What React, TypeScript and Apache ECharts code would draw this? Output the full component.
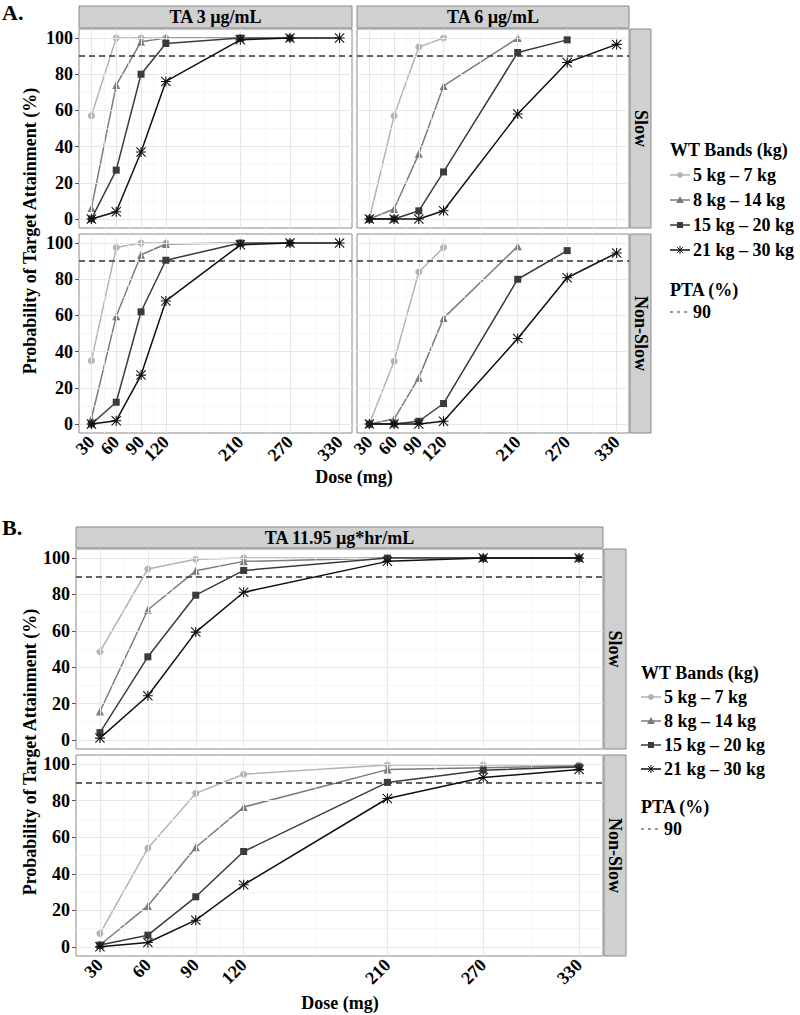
import React, { useEffect, useRef } from "react";
import * as echarts from "echarts";

// ---- data ----
const DOSES = [30, 60, 90, 120, 210, 270, 330];
const Y_TICKS = [0, 20, 40, 60, 80, 100];
const Y_MINOR = [10, 30, 50, 70, 90];
const X_MINOR = [45, 75, 105, 165, 240, 300];
const PTA = 90;
const BANDS = ["5 kg \u2013 7 kg", "8 kg \u2013 14 kg", "15 kg \u2013 20 kg", "21 kg \u2013 30 kg"];

// doses per band in panel A
const A_DOSES_5_7 = [30, 60, 90, 120];
const A_DOSES_8_14 = [30, 60, 90, 120, 210];
const A_DOSES_15_20 = [30, 60, 90, 120, 210, 270];
const A_DOSES_21_30 = [30, 60, 90, 120, 210, 270, 330];

// A: TA 3 ug/mL, Slow
const A3_SLOW_5_7 = [57, 100, 100, 100];
const A3_SLOW_8_14 = [6, 74, 98, 100, 100];
const A3_SLOW_15_20 = [0, 27, 80, 97, 100, 100];
const A3_SLOW_21_30 = [0, 4, 37, 76, 99, 100, 100];
// A: TA 6 ug/mL, Slow
const A6_SLOW_5_7 = [0, 57, 95, 100];
const A6_SLOW_8_14 = [0, 5.5, 36, 73.5, 100];
const A6_SLOW_15_20 = [0, 0, 4.5, 26, 92, 99];
const A6_SLOW_21_30 = [0, 0, 0, 4.5, 58, 86.5, 96.5];
// A: TA 3 ug/mL, Non-Slow
const A3_NON_5_7 = [35, 97.5, 100, 100];
const A3_NON_8_14 = [3, 59.5, 93.5, 99.5, 100];
const A3_NON_15_20 = [0, 12, 62, 90.5, 100, 100];
const A3_NON_21_30 = [0, 1.8, 27, 68, 99, 100, 100];
// A: TA 6 ug/mL, Non-Slow
const A6_NON_5_7 = [0, 34.7, 84, 97.5];
const A6_NON_8_14 = [0, 2.7, 25.6, 58.5, 98.2];
const A6_NON_15_20 = [0, 0, 1.5, 11.3, 80, 95.8];
const A6_NON_21_30 = [0, 0, 0, 1.5, 47.2, 80.8, 94.5];
// B: TA 11.95 ug*hr/mL, Slow
const B_SLOW_5_7 = [48.5, 94, 99.4, 100, 100, 100, 100];
const B_SLOW_8_14 = [15.6, 71.6, 93, 98.2, 100, 100, 100];
const B_SLOW_15_20 = [4, 45.7, 79.6, 93.2, 100, 100, 100];
const B_SLOW_21_30 = [1, 24.3, 59.3, 81.2, 98.2, 100, 100];
// B: Non-Slow
const B_NON_5_7 = [7.3, 54, 84, 94.5, 99.5, 99.5, 99.5];
const B_NON_8_14 = [1, 22.4, 54.5, 76.5, 97, 98, 99];
const B_NON_15_20 = [1, 6.4, 27.4, 52.2, 90, 96.7, 98.5];
const B_NON_21_30 = [0, 2.4, 14.6, 34, 81.2, 92.7, 97];

// ---- styling ----
const FONT = "'Liberation Serif', 'Times New Roman', serif";
const COLORS = ["#b3b3b3", "#7b7b7b", "#3b3b3b", "#101010"];
const STAR =
  "path://M4.45,0 L5.55,0 L5.55,10 L4.45,10 Z M0,4.45 L10,4.45 L10,5.55 L0,5.55 Z M0.75,0 L10,9.25 L9.25,10 L0,0.75 Z M9.25,0 L10,0.75 L0.75,10 L0,9.25 Z";
const SYMBOLS = ["circle", "triangle", "rect", STAR];
const SIZES = [7, 8, 7, 10];
const X_MIN = 15;
const X_MAX = 345;

const A_DOSE_SETS = [A_DOSES_5_7, A_DOSES_8_14, A_DOSES_15_20, A_DOSES_21_30];

const PANELS = [
  { left: 79, top: 29, width: 273, height: 199, xl: false, yl: true, doses: A_DOSE_SETS, vals: [A3_SLOW_5_7, A3_SLOW_8_14, A3_SLOW_15_20, A3_SLOW_21_30] },
  { left: 357, top: 29, width: 272, height: 199, xl: false, yl: false, doses: A_DOSE_SETS, vals: [A6_SLOW_5_7, A6_SLOW_8_14, A6_SLOW_15_20, A6_SLOW_21_30] },
  { left: 79, top: 234, width: 273, height: 199, xl: true, yl: true, doses: A_DOSE_SETS, vals: [A3_NON_5_7, A3_NON_8_14, A3_NON_15_20, A3_NON_21_30] },
  { left: 357, top: 234, width: 272, height: 199, xl: true, yl: false, doses: A_DOSE_SETS, vals: [A6_NON_5_7, A6_NON_8_14, A6_NON_15_20, A6_NON_21_30] },
  { left: 76, top: 549, width: 527, height: 200, xl: false, yl: true, doses: [DOSES, DOSES, DOSES, DOSES], vals: [B_SLOW_5_7, B_SLOW_8_14, B_SLOW_15_20, B_SLOW_21_30] },
  { left: 76, top: 755, width: 527, height: 201, xl: true, yl: true, doses: [DOSES, DOSES, DOSES, DOSES], vals: [B_NON_5_7, B_NON_8_14, B_NON_15_20, B_NON_21_30] },
];

function txt(text: string, x: number, y: number, size: number, align = "left", rotation = 0) {
  return {
    type: "text",
    x,
    y,
    rotation,
    style: {
      text,
      fill: "#000",
      fontSize: size,
      fontWeight: "bold",
      fontFamily: FONT,
      textAlign: align,
      textVerticalAlign: "middle",
    },
  };
}

function strip(x: number, y: number, w: number, h: number) {
  return {
    type: "rect",
    shape: { x, y, width: w, height: h },
    style: { fill: "#d0d0d0", stroke: "#8a8a8a", lineWidth: 1 },
  };
}

function legendKey(i: number, x: number, y: number) {
  const c = COLORS[i];
  const cx = x + 10;
  const els: any[] = [
    { type: "line", shape: { x1: x, y1: y, x2: x + 20, y2: y }, style: { stroke: c, lineWidth: 1.5 } },
  ];
  if (i === 0) els.push({ type: "circle", shape: { cx, cy: y, r: 3 }, style: { fill: c } });
  if (i === 1) els.push({ type: "polygon", shape: { points: [[cx, y - 4], [cx + 4, y + 3], [cx - 4, y + 3]] }, style: { fill: c } });
  if (i === 2) els.push({ type: "rect", shape: { x: cx - 3, y: y - 3, width: 6, height: 6 }, style: { fill: c } });
  if (i === 3) {
    const r = 4;
    const d = r * 0.707;
    els.push({ type: "line", shape: { x1: cx, y1: y - r, x2: cx, y2: y + r }, style: { stroke: c, lineWidth: 1 } });
    els.push({ type: "line", shape: { x1: cx - d, y1: y - d, x2: cx + d, y2: y + d }, style: { stroke: c, lineWidth: 1 } });
    els.push({ type: "line", shape: { x1: cx - d, y1: y + d, x2: cx + d, y2: y - d }, style: { stroke: c, lineWidth: 1 } });
  }
  return els;
}

function legend(x: number, yTitle: number, step: number, yPta: number) {
  const els: any[] = [txt("WT Bands (kg)", x, yTitle, 18)];
  BANDS.forEach((b, i) => {
    const y = yTitle + step * (i + 1);
    els.push(...legendKey(i, x, y));
    els.push(txt(b, x + 23, y, 18));
  });
  els.push(txt("PTA (%)", x, yPta, 18));
  els.push({
    type: "line",
    shape: { x1: x, y1: yPta + 22, x2: x + 20, y2: yPta + 22 },
    style: { stroke: "#333", lineWidth: 1.2, lineDash: [3, 4] },
  });
  els.push(txt(String(PTA), x + 23, yPta + 22, 18));
  return els;
}

export default function App() {
  const ref = useRef<HTMLDivElement>(null);
  useEffect(() => {
    if (!ref.current) return;
    const chart = echarts.init(ref.current, undefined, { renderer: "svg" });

    const labelStyle = { color: "#000", fontSize: 18, fontWeight: "bold", fontFamily: FONT };
    // leading placeholder at the axis minimum keeps ECharts' min-label overlap check from hiding "30"/"60"
    const xLabelValues = [X_MIN, ...DOSES];
    const grids = PANELS.map((p) => ({
      left: p.left,
      top: p.top,
      width: p.width,
      height: p.height,
      show: true,
      borderColor: "#8a8a8a",
      borderWidth: 1,
      backgroundColor: "#fff",
      containLabel: false,
    }));
    const xAxes = PANELS.map((p, i) => ({
      type: "value",
      gridIndex: i,
      min: X_MIN,
      max: X_MAX,
      splitLine: { show: false },
      axisLine: { show: false },
      axisTick: { show: p.xl, length: 4, lineStyle: { color: "#555" }, customValues: xLabelValues },
      axisLabel: {
        show: p.xl,
        customValues: xLabelValues,
        formatter: (v: number) => (v === X_MIN ? "" : String(v)),
        rotate: 45,
        margin: 6,
        hideOverlap: false,
        showMinLabel: false,
        showMaxLabel: true,
        ...labelStyle,
      },
    }));
    const yAxes = PANELS.map((p, i) => ({
      type: "value",
      gridIndex: i,
      min: -5,
      max: 105,
      splitLine: { show: false },
      axisLine: { show: false },
      axisTick: { show: p.yl, length: 4, lineStyle: { color: "#555" }, customValues: Y_TICKS },
      axisLabel: {
        show: p.yl,
        customValues: Y_TICKS,
        margin: 6,
        hideOverlap: false,
        showMinLabel: true,
        showMaxLabel: true,
        ...labelStyle,
      },
    }));

    const series: any[] = [];
    PANELS.forEach((p, i) => {
      const major = { color: "#e6e6e6", width: 1, type: "solid" };
      const minor = { color: "#f2f2f2", width: 0.7, type: "solid" };
      series.push({
        type: "line",
        xAxisIndex: i,
        yAxisIndex: i,
        data: [[30, 0]],
        showSymbol: false,
        symbol: "none",
        lineStyle: { opacity: 0 },
        silent: true,
        z: 1,
        markLine: {
          silent: true,
          symbol: ["none", "none"],
          label: { show: false },
          emphasis: { disabled: true },
          data: [
            ...X_MINOR.map((v) => ({ xAxis: v, lineStyle: minor })),
            ...Y_MINOR.map((v) => ({ yAxis: v, lineStyle: minor })),
            ...DOSES.map((v) => ({ xAxis: v, lineStyle: major })),
            ...Y_TICKS.map((v) => ({ yAxis: v, lineStyle: major })),
            { yAxis: PTA, lineStyle: { color: "#333", width: 1.5, type: [6, 4] } },
          ],
        },
      });
      p.vals.forEach((vals, b) => {
        series.push({
          type: "line",
          name: BANDS[b],
          xAxisIndex: i,
          yAxisIndex: i,
          data: vals.map((v, k) => [p.doses[b][k], v]),
          symbol: SYMBOLS[b],
          symbolSize: SIZES[b],
          showSymbol: true,
          lineStyle: { color: COLORS[b], width: 1.5 },
          itemStyle: { color: COLORS[b] },
          z: 3 + b,
          silent: true,
        });
      });
    });

    const graphic: any[] = [
      txt("A.", 2, 12, 22),
      txt("B.", 2, 527, 22),
      // panel A strips
      strip(79, 6, 273, 22),
      txt("TA 3 \u00b5g/mL", 215.5, 17, 18, "center"),
      strip(357, 6, 272, 22),
      txt("TA 6 \u00b5g/mL", 493, 17, 18, "center"),
      strip(630, 29, 21, 199),
      txt("Slow", 640.5, 128.5, 18, "center", -Math.PI / 2),
      strip(630, 234, 21, 199),
      txt("Non-Slow", 640.5, 333.5, 18, "center", -Math.PI / 2),
      // panel B strips
      strip(76, 527, 527, 21),
      txt("TA 11.95 \u00b5g*hr/mL", 339.5, 537.5, 18, "center"),
      strip(604, 549, 22, 200),
      txt("Slow", 615, 649, 18, "center", -Math.PI / 2),
      strip(604, 755, 22, 201),
      txt("Non-Slow", 615, 855.5, 18, "center", -Math.PI / 2),
      // axis titles
      txt("Probability of Target Attainment (%)", 30, 231, 18, "center", Math.PI / 2),
      txt("Dose (mg)", 354, 477, 18, "center"),
      txt("Probability of Target Attainment (%)", 30, 752, 18, "center", Math.PI / 2),
      txt("Dose (mg)", 340, 1003, 18, "center"),
      ...legend(670, 150, 25, 290),
      ...legend(641, 673, 24, 807),
    ];

    chart.setOption({
      animation: false,
      backgroundColor: "#fff",
      grid: grids,
      xAxis: xAxes,
      yAxis: yAxes,
      series,
      graphic,
    });
    return () => chart.dispose();
  }, []);

  return (
    <div
      ref={ref}
      style={{ position: "absolute", left: 0, top: 0, width: 800, height: 1015 }}
    />
  );
}
